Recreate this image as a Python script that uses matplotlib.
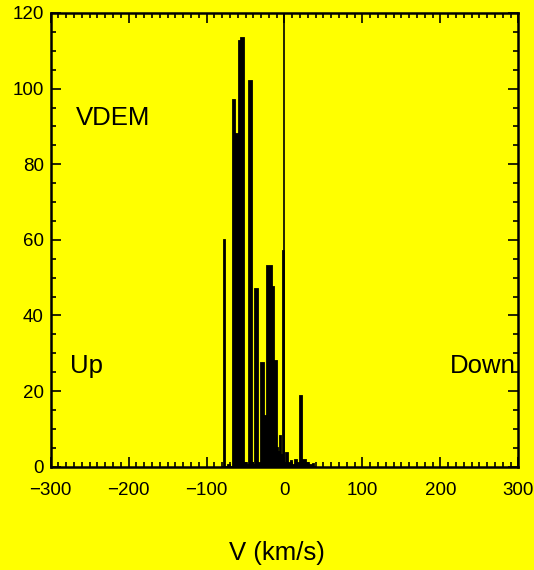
import numpy as np
import matplotlib
matplotlib.use("Agg")
import matplotlib.pyplot as plt
from matplotlib.ticker import MultipleLocator

# Histogram of velocities (2 km/s bins, centers -79 ... 39)
bin_centers = [-79, -77, -75, -73, -71, -69, -67, -65, -63, -61, -59, -57, -55, -53,
               -51, -49, -47, -45, -43, -41, -39, -37, -35, -33, -31, -29, -27, -25,
               -23, -21, -19, -17, -15, -13, -11, -9, -7, -5, -3, -1, 1, 3, 5, 7,
               9, 11, 13, 15, 17, 19, 21, 23, 25, 27, 29, 31, 33, 35, 37, 39]
counts = [0, 60, 0, 0, 0.5, 0, 0, 97, 88, 88, 88, 112.7, 113.5, 113.5,
          1, 1, 0.5, 102, 102, 1, 0.5, 47, 47, 1, 1, 27.4, 27.4, 13.5,
          13.5, 53, 53, 53, 47.5, 27.9, 27.9, 5, 4, 8, 3, 57, 1.1, 3.5, 1, 1,
          1.6, 0.5, 0.5, 1.8, 1, 1, 18.8, 1.6, 1.9, 1.9, 1, 1, 0.5, 0.5, 0.8, 0]
bin_width = 2.0

x_ticks = [-300, -200, -100, 0, 100, 200, 300]
y_ticks = [0, 20, 40, 60, 80, 100, 120]
x_label = "V (km/s)"
annotations = [("VDEM", -268, 92.3, "left"), ("Up", -275, 26.7, "left"),
               ("Down", 297, 26.7, "right")]

yellow = "#FFFF00"
plt.rcParams['font.family'] = ['Liberation Sans', 'DejaVu Sans']

fig = plt.figure(figsize=(5.34, 5.70), dpi=100, facecolor=yellow)
ax = fig.add_axes([0.0949, 0.1812, 0.8757, 0.796])
ax.set_facecolor(yellow)

centers = np.array(bin_centers, dtype=float)
edges = np.append(centers - bin_width / 2, centers[-1] + bin_width / 2)
ax.stairs(counts, edges, fill=True, color="black")
ax.stairs(counts, edges, color="black", linewidth=1.3)
ax.axvline(0, color="black", linewidth=1.2)

ax.set_xlim(-300, 300)
ax.set_ylim(0, 120)
ax.set_xticks(x_ticks)
ax.set_yticks(y_ticks)
ax.xaxis.set_minor_locator(MultipleLocator(10))
ax.yaxis.set_minor_locator(MultipleLocator(5))
ax.tick_params(which="both", direction="in", top=True, right=True, width=1.2,
               colors="black", labelsize=13.5)
ax.tick_params(which="major", length=7.2)
ax.tick_params(which="minor", length=3.6)
ax.tick_params(axis="x", which="major", pad=11)
ax.tick_params(axis="y", which="major", pad=5)
for s in ax.spines.values():
    s.set_linewidth(1.8)

for txt, x, y, ha in annotations:
    ax.text(x, y, txt, ha=ha, va="center", fontsize=18.5, color="black")

ax.set_xlabel(x_label, fontsize=18.5)
ax.xaxis.set_label_coords(0.484, -0.19)
ax.xaxis.label.set_va("center")

fig.savefig("out.png", dpi=100, facecolor=yellow)
